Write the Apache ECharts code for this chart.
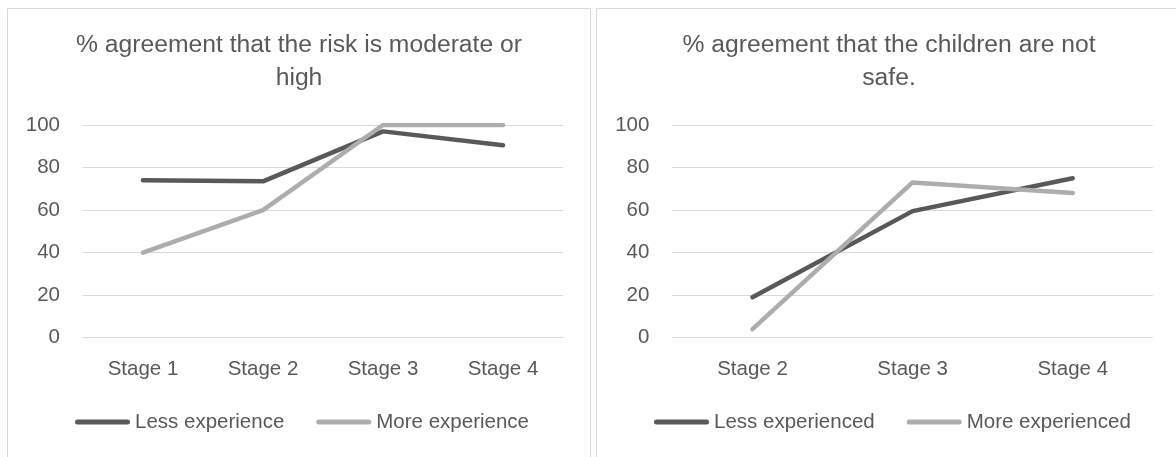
<!DOCTYPE html>
<html>
<head>
<meta charset="utf-8">
<script src="https://cdn.jsdelivr.net/npm/echarts@6/dist/echarts.min.js"></script>
<style>
  html, body { margin: 0; padding: 0; background: #ffffff; }
  #chart { width: 1176px; height: 457px; }
</style>
</head>
<body>
<div id="chart"></div>
<script>
// Panel 1: perceived risk by stage
const riskTitle = '% agreement that the risk is moderate or\nhigh';
const riskStages = ['Stage 1', 'Stage 2', 'Stage 3', 'Stage 4'];
const riskLess = [74, 73.5, 97, 90.5];
const riskMore = [40, 60, 100, 100];
const riskNames = ['Less experience', 'More experience'];

// Panel 2: children judged not safe, by stage
const safeTitle = '% agreement that the children are not\nsafe.';
const safeStages = ['Stage 2', 'Stage 3', 'Stage 4'];
const safeLess = [19, 59.5, 75];
const safeMore = [4, 73, 68];
const safeNames = ['Less experienced', 'More experienced'];

const yTicks = [0, 20, 40, 60, 80, 100];

const FONT = '"Liberation Sans", Arial, sans-serif';
const TEXT = '#595959';
const GRID = '#d9d9d9';
const DARK = '#595959';
const LIGHT = '#adadad';
// capsule-shaped legend key, like a thick line with round ends
const KEY = 'path://M2.5,0 L52.5,0 A2.5,2.5 0 0 1 52.5,5 L2.5,5 A2.5,2.5 0 0 1 2.5,0 Z';

function yAxis(gridIndex) {
  return {
    type: 'value', gridIndex,
    min: yTicks[0], max: yTicks[yTicks.length - 1], interval: yTicks[1] - yTicks[0],
    axisLine: { show: false }, axisTick: { show: false },
    axisLabel: { color: TEXT, fontSize: 20.5, fontFamily: FONT, margin: 23 },
    splitLine: { lineStyle: { color: GRID, width: 1 } }
  };
}
function xAxis(gridIndex, cats) {
  return {
    type: 'category', gridIndex, data: cats, boundaryGap: true,
    axisLine: { lineStyle: { color: GRID, width: 1 } }, axisTick: { show: false },
    axisLabel: { color: TEXT, fontSize: 20.5, fontFamily: FONT, margin: 20, lineHeight: 24 }
  };
}
function line(name, values, color, idx) {
  return {
    type: 'line', name, data: values, xAxisIndex: idx, yAxisIndex: idx,
    symbol: 'none', smooth: false, animation: false,
    lineStyle: { color, width: 4.5, cap: 'round', join: 'round' },
    itemStyle: { color }
  };
}
function legend(names, left) {
  return {
    data: names.map(n => ({ name: n, icon: KEY })), left, top: 410, orient: 'horizontal',
    itemWidth: 55, itemHeight: 5, itemGap: 32, padding: 0,
    textStyle: { color: TEXT, fontSize: 20.5, fontFamily: FONT, lineHeight: 24, padding: [0, 0, 0, 0] },
    selectedMode: false
  };
}

const chart = echarts.init(document.getElementById('chart'), null, { renderer: 'canvas' });
chart.setOption({
  backgroundColor: '#ffffff',
  animation: false,
  graphic: [
    { type: 'rect', shape: { x: 7.5, y: 8.5, width: 583, height: 470 },
      style: { fill: 'none', stroke: GRID, lineWidth: 1 }, silent: true },
    { type: 'rect', shape: { x: 596.5, y: 8.5, width: 590, height: 470 },
      style: { fill: 'none', stroke: GRID, lineWidth: 1 }, silent: true },
    { type: 'text', x: 299, y: 28.5,
      style: { text: riskTitle, align: 'center', verticalAlign: 'top', fill: TEXT,
               fontSize: 24.7, fontFamily: FONT, lineHeight: 33 } },
    { type: 'text', x: 889, y: 28.5,
      style: { text: safeTitle, align: 'center', verticalAlign: 'top', fill: TEXT,
               fontSize: 24.7, fontFamily: FONT, lineHeight: 33 } }
  ],
  grid: [
    { left: 83, top: 125, width: 480, height: 212.7, containLabel: false },
    { left: 672.4, top: 125, width: 480.4, height: 212.7, containLabel: false }
  ],
  xAxis: [xAxis(0, riskStages), xAxis(1, safeStages)],
  yAxis: [yAxis(0), yAxis(1)],
  legend: [legend(riskNames, 75), legend(safeNames, 654)],
  series: [
    line(riskNames[0], riskLess, DARK, 0),
    line(riskNames[1], riskMore, LIGHT, 0),
    line(safeNames[0], safeLess, DARK, 1),
    line(safeNames[1], safeMore, LIGHT, 1)
  ]
});
</script>
</body>
</html>
